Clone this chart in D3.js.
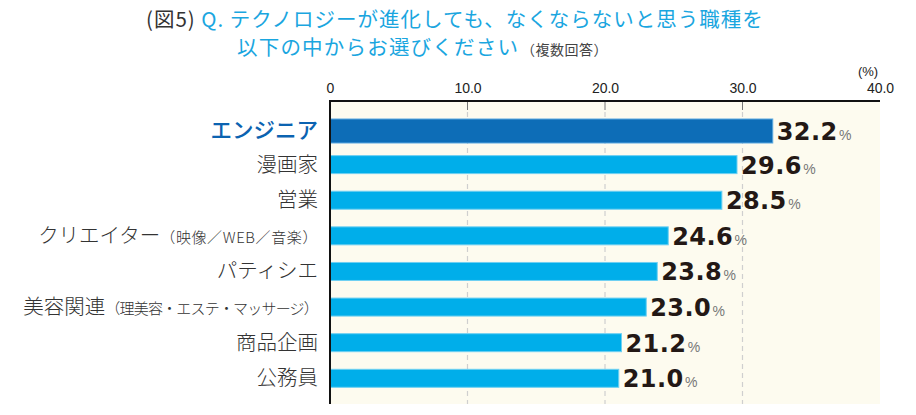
<!DOCTYPE html>
<html><head><meta charset="utf-8">
<script src="https://cdn.jsdelivr.net/npm/d3@7"></script>
<style>
body{margin:0;background:#fff;}
svg{display:block;}
</style></head>
<body>
<script>
const categories = ["エンジニア","漫画家","営業","クリエイター","パティシエ","美容関連","商品企画","公務員"];
const subLabels = ["","","","（映像／WEB／音楽）","","（理美容・エステ・マッサージ）","",""];
const values = [32.2,29.6,28.5,24.6,23.8,23.0,21.2,21.0];
const tickValues = [0,10,20,30,40];
const tickLabels = ["0","10.0","20.0","30.0","40.0"];

const W = 916, H = 415;
const svg = d3.select("body").append("svg").attr("width",W).attr("height",H);
const jp = "'Noto Sans CJK JP','Noto Sans',sans-serif";
const num = "'DejaVu Sans','Liberation Sans',sans-serif";
const subSpacing = {"（映像／WEB／音楽）":0.6, "（理美容・エステ・マッサージ）":-0.8};

// Title
const t1 = svg.append("text").attr("x",146).attr("y",27).attr("font-family",jp).attr("font-size",20.5).attr("font-weight",400).attr("letter-spacing",1.0);
t1.append("tspan").attr("fill","#333").text("(図5) ");
t1.append("tspan").attr("fill","#1aa6df").text("Q. テクノロジーが進化しても、なくならないと思う職種を");
const t2 = svg.append("text").attr("x",237).attr("y",55).attr("font-family",jp).attr("font-size",20.5).attr("font-weight",400).attr("letter-spacing",1.2);
t2.append("tspan").attr("fill","#1aa6df").text("以下の中からお選びください");
t2.append("tspan").attr("fill","#444").attr("font-size",14).attr("letter-spacing",0.5).attr("dx",2).text("（複数回答）");

const x = d3.scaleLinear().domain([0,40]).range([330,880]);
const y = d3.scalePoint().domain(categories).range([129,378.3]);
const plotTop = 101, plotBottom = 404;

// background
svg.append("rect").attr("x",x(0)).attr("y",plotTop).attr("width",x(40)-x(0)).attr("height",plotBottom-plotTop).attr("fill","#fdfbef");

// gridlines
svg.append("g").selectAll("line").data(tickValues.filter(d=>d>0 && d<40)).join("line")
  .attr("x1",d=>x(d)).attr("x2",d=>x(d)).attr("y1",112).attr("y2",plotBottom)
  .attr("stroke","#cfcfcf").attr("stroke-width",1.2).attr("stroke-dasharray","5,4");
svg.append("g").selectAll("line").data(tickValues.filter(d=>d>0 && d<40)).join("line")
  .attr("x1",d=>x(d)).attr("x2",d=>x(d)).attr("y1",plotTop).attr("y2",110)
  .attr("stroke","#777").attr("stroke-width",1);

// axis top
const axis = d3.axisTop(x).tickValues(tickValues).tickFormat((d,i)=>tickLabels[i]).tickSize(0).tickPadding(8);
const ga = svg.append("g").attr("transform",`translate(0,${plotTop})`).call(axis);
ga.select(".domain").remove();
ga.selectAll("text").attr("font-family","'Liberation Sans Narrow','Liberation Sans',sans-serif").attr("font-size",14).attr("fill","#222");
svg.append("text").attr("x",868).attr("y",76).attr("text-anchor","middle").attr("font-family","'Liberation Sans Narrow','Liberation Sans',sans-serif").attr("font-size",13).attr("fill","#222").text("(%)");

// bars
const bh = (i)=> i===0 ? 24 : 18;
const off = (i)=> i===0 ? 2 : 0;
svg.append("g").selectAll("rect").data(values).join("rect")
  .attr("x",x(0)).attr("y",(d,i)=>y(categories[i])+off(i)-bh(i)/2)
  .attr("width",d=>x(d)-x(0)).attr("height",(d,i)=>bh(i))
  .attr("fill",(d,i)=>i===0?"#0d6db7":"#00aeea")
  .attr("stroke",(d,i)=>i===0?"#5aa8e0":"#6fd0f2").attr("stroke-width",1);

// axis lines
svg.append("line").attr("x1",x(0)-1).attr("x2",x(40)).attr("y1",plotTop).attr("y2",plotTop).attr("stroke","#111").attr("stroke-width",2);
svg.append("line").attr("x1",x(0)).attr("x2",x(0)).attr("y1",plotTop).attr("y2",plotBottom).attr("stroke","#111").attr("stroke-width",2);

// value labels
const vl = svg.append("g").selectAll("text").data(values).join("text")
  .attr("x",d=>x(d)+4).attr("y",(d,i)=>y(categories[i])+off(i)+9)
  .attr("font-family",num).attr("font-weight","bold").attr("font-size",24).attr("letter-spacing",0.4).attr("fill","#231815");
vl.append("tspan").text(d=>d.toFixed(1));
vl.append("tspan").attr("font-family","'Liberation Sans',sans-serif").attr("font-size",14).attr("font-weight","normal").attr("fill","#777").attr("letter-spacing",0).attr("dx",1.5).text("%");

// category labels
const cl = svg.append("g").selectAll("text").data(categories).join("text")
  .attr("x",318).attr("y",(d,i)=>y(d)+off(i)+7).attr("text-anchor","end")
  .attr("font-family",jp).attr("font-weight",300);
cl.append("tspan").text(d=>d)
  .attr("font-size",(d,i)=>i===0?21.5:20.5)
  .attr("font-weight",(d,i)=>i===0?500:300)
  .attr("fill",(d,i)=>i===0?"#0b63b1":"#333");
cl.append("tspan").text((d,i)=>subLabels[i]).attr("font-size",15).attr("fill","#333")
  .attr("letter-spacing",(d,i)=>subSpacing[subLabels[i]]||0);
</script>
</body></html>
